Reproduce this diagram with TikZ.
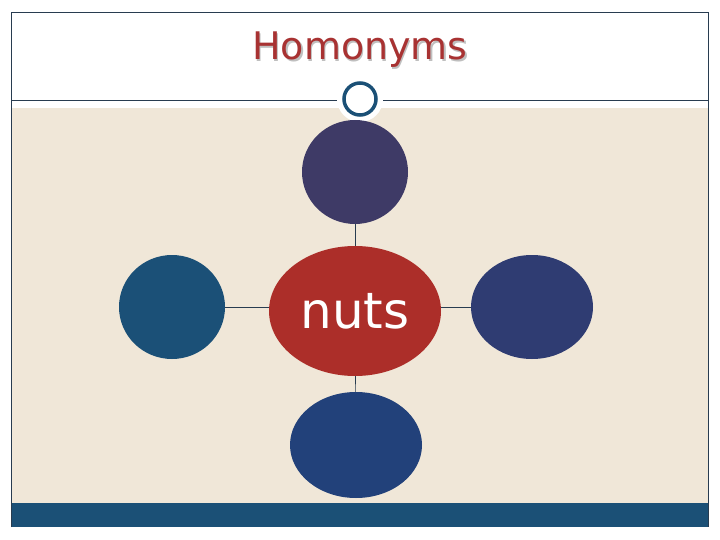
\documentclass[tikz,border=0pt]{standalone}
\usepackage{fontspec}
\setmainfont{DejaVu Sans}
\usetikzlibrary{shapes.geometric}
\definecolor{beige}{RGB}{240,231,216}
\definecolor{barblue}{RGB}{27,80,118}
\definecolor{framec}{RGB}{40,60,80}
\definecolor{topc}{RGB}{62,58,102}
\definecolor{leftc}{RGB}{27,80,119}
\definecolor{rightc}{RGB}{47,60,114}
\definecolor{botc}{RGB}{34,65,122}
\definecolor{redc}{RGB}{172,46,41}
\definecolor{titlec}{RGB}{168,50,50}
\tikzset{
  blob/.style={ellipse, draw=none, inner sep=0pt},
  link/.style={draw=framec, line width=0.6pt}
}
\begin{document}
\begin{tikzpicture}[x=1pt,y=-1pt]
\useasboundingbox (0,0) rectangle (720,540);
\fill[white] (0,0) rectangle (720,540);
\fill[beige] (11,108) rectangle (708,503);
\fill[barblue] (11,503) rectangle (708,527);
\draw[framec, line width=0.6pt] (11,527) -- (11,12) -- (708,12) -- (708,527);
\draw[framec, line width=0.8pt] (11,100) -- (708,100);
\node[circle, fill=white, draw=none, minimum size=46pt] (ringbg) at (360,99) {};
\node[circle, fill=white, draw=barblue, line width=3.5pt, minimum size=32pt, inner sep=0pt] (ring) at (360,99) {};
\node[text=black!25] at (361.5,51.5) {\fontsize{38}{44}\selectfont Homonyms};
\node[text=titlec] (title) at (360,50) {\fontsize{38}{44}\selectfont Homonyms};
\node[blob, fill=topc, minimum width=106pt, minimum height=104pt] (top) at (355,172) {};
\node[blob, fill=leftc, minimum width=106pt, minimum height=104pt] (left) at (172,307) {};
\node[blob, fill=rightc, minimum width=122pt, minimum height=104pt] (right) at (532,307) {};
\node[blob, fill=botc, minimum width=132pt, minimum height=106pt] (bot) at (356,445) {};
\node[blob, fill=redc, minimum width=172pt, minimum height=130pt, text=white, font=\fontsize{50}{54}\selectfont] (nuts) at (355,311) {nuts};
\path[link] (nuts) -- (top);
\path[link] (nuts) -- (bot);
\path[link] (left.east) -- (nuts.west |- left.east);
\path[link] (right.west) -- (nuts.east |- right.west);
\end{tikzpicture}
\end{document}
